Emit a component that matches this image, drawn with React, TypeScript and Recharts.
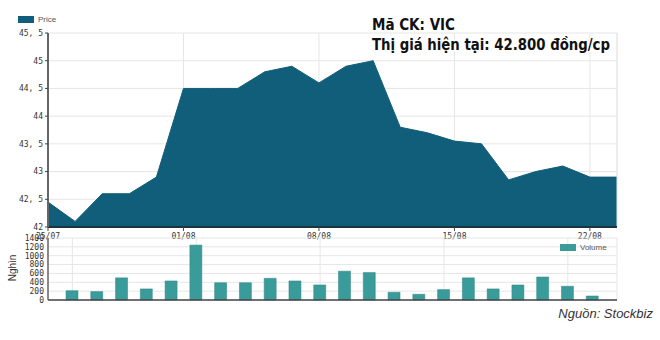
import React from 'react';
import {
  AreaChart,
  Area,
  BarChart,
  Bar,
  XAxis,
  YAxis,
  CartesianGrid,
  Legend,
  ReferenceLine,
} from 'recharts';

// Trading days, VIC, 25/07 - 23/08
const dates = [
  '25/07', '26/07', '29/07', '30/07', '31/07',
  '01/08', '02/08', '05/08', '06/08', '07/08',
  '08/08', '09/08', '12/08', '13/08', '14/08',
  '15/08', '16/08', '19/08', '20/08', '21/08',
  '22/08', '23/08',
];

// closing price, thousand VND
const prices = [
  42.45, 42.1, 42.6, 42.6, 42.9,
  44.5, 44.5, 44.5, 44.8, 44.9,
  44.6, 44.9, 45.0, 43.8, 43.7,
  43.55, 43.5, 42.85, 43.0, 43.1,
  42.9, 42.9,
];

// volume, thousand shares
const volumes = [
  210, 190, 500, 250, 430,
  1240, 390, 390, 490, 430,
  340, 650, 620, 175, 130,
  235, 500, 250, 340, 520,
  310, 90,
];

const priceTicks = [42, 42.5, 43, 43.5, 44, 44.5, 45, 45.5];
const volumeTicks = [0, 200, 400, 600, 800, 1000, 1200, 1400];

const PRICE_COLOR = '#105e79';
const VOLUME_COLOR = '#3a9b9b';
const GRID = '#e6e6e6';
const AXIS = '#444';

const priceData = dates.map((d, i) => ({ date: d, price: prices[i] }));
const volumeData = dates.map((d, i) => ({ date: d, volume: volumes[i] }));

const tickStyle = { fontFamily: '"DejaVu Sans Mono", monospace', fontSize: 8, fill: '#333' };

const fmtPrice = (v: number) => (Number.isInteger(v) ? String(v) : String(v).replace('.', ', '));

function LegendKey({ color, label }: { color: string; label: string }) {
  return (
    <div
      style={{
        display: 'flex',
        alignItems: 'center',
        fontFamily: '"Liberation Sans", Arial, sans-serif',
        fontSize: 8,
        color: '#555',
        whiteSpace: 'nowrap',
      }}
    >
      <span style={{ display: 'inline-block', width: 16, height: 7, background: color, marginRight: 4 }} />
      {label}
    </div>
  );
}

// keeps the tick positions (for the grid) but draws no label
const NoTick = () => <g />;

export default function App() {
  return (
    <div style={{ position: 'absolute', left: 0, top: 0, width: 660, height: 340, background: '#fff' }}>
      <div style={{ position: 'absolute', left: 0, top: 0 }}>
        <AreaChart width={660} height={240} data={priceData} margin={{ top: 33, right: 43, bottom: 0, left: 0 }}>
          <CartesianGrid stroke={GRID} />
          <XAxis
            dataKey="date"
            interval={4}
            height={13}
            tick={tickStyle}
            tickSize={4}
            tickLine={{ stroke: AXIS }}
            axisLine={{ stroke: '#1d3440', strokeWidth: 2 }}
          />
          <YAxis
            width={48}
            domain={[42, 45.5]}
            ticks={priceTicks}
            interval={0}
            tickFormatter={fmtPrice}
            tick={tickStyle}
            tickSize={3}
            tickLine={{ stroke: AXIS }}
            axisLine={{ stroke: '#666', strokeWidth: 2 }}
          />
          <ReferenceLine x={dates[dates.length - 1]} stroke={GRID} />
          <Legend
            layout="vertical"
            align="center"
            verticalAlign="middle"
            wrapperStyle={{ left: 18, top: 15, width: 60, height: 10 }}
            content={() => <LegendKey color={PRICE_COLOR} label="Price" />}
          />
          <Area
            type="linear"
            dataKey="price"
            stroke={PRICE_COLOR}
            fill={PRICE_COLOR}
            fillOpacity={1}
            isAnimationActive={false}
          />
        </AreaChart>
      </div>

      <div style={{ position: 'absolute', left: 0, top: 228 }}>
        <BarChart width={660} height={80} data={volumeData} margin={{ top: 10, right: 43, bottom: 7, left: 0 }}>
          <CartesianGrid stroke={GRID} />
          <XAxis
            dataKey="date"
            interval={4}
            height={1}
            tick={NoTick}
            tickLine={false}
            padding={{ left: 12, right: 12 }}
            axisLine={{ stroke: AXIS, strokeWidth: 1.5 }}
          />
          <YAxis
            width={48}
            domain={[0, 1400]}
            ticks={volumeTicks}
            interval={0}
            tick={tickStyle}
            tickSize={2}
            tickLine={false}
            axisLine={{ stroke: '#666', strokeWidth: 1.5 }}
          />
          <Legend
            layout="vertical"
            align="center"
            verticalAlign="middle"
            wrapperStyle={{ left: 560, top: 15, width: 60, height: 10 }}
            content={() => <LegendKey color={VOLUME_COLOR} label="Volume" />}
          />
          <Bar
            dataKey="volume"
            barSize={12}
            fill={VOLUME_COLOR}
            stroke="#2f8585"
            strokeWidth={0.5}
            isAnimationActive={false}
          />
        </BarChart>
      </div>

      <svg
        width={660}
        height={340}
        style={{ position: 'absolute', left: 0, top: 0, pointerEvents: 'none' }}
      >
        <g
          fontFamily='"DejaVu Sans Condensed", "DejaVu Sans", sans-serif'
          fontWeight="bold"
          fontSize={16}
          fill="#111"
          stroke="#fff"
          strokeWidth={3}
          strokeLinejoin="round"
          style={{ paintOrder: 'stroke' }}
        >
          <text x={372} y={30} textLength={83} lengthAdjust="spacingAndGlyphs">
            Mã CK: VIC
          </text>
          <text x={372} y={50} textLength={238} lengthAdjust="spacingAndGlyphs">
            Thị giá hiện tại: 42.800 đồng/cp
          </text>
        </g>
        <text
          x={13}
          y={268}
          transform="rotate(-90 13 268)"
          textAnchor="middle"
          dominantBaseline="middle"
          fontFamily='"Liberation Sans", Arial, sans-serif'
          fontSize={10}
          fill="#333"
        >
          Nghìn
        </text>
        <text
          x={653}
          y={318}
          textAnchor="end"
          fontFamily='"Liberation Sans", Arial, sans-serif'
          fontStyle="italic"
          fontSize={13}
          fill="#333"
        >
          Nguồn: Stockbiz
        </text>
      </svg>
    </div>
  );
}
